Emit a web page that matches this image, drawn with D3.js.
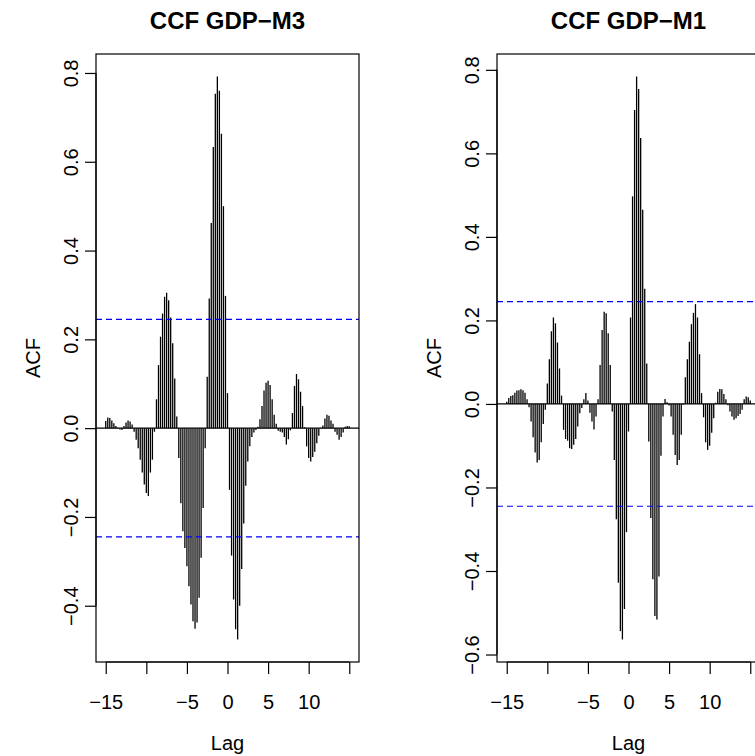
<!DOCTYPE html>
<html>
<head>
<meta charset="utf-8">
<script src="https://cdn.jsdelivr.net/npm/d3@7"></script>
<style>
    body { margin: 0; background: #fff; }
    svg text { font-family: "Liberation Sans", Arial, sans-serif; fill: #000; }
</style>
</head>
<body>
<svg id="chart" width="755" height="756"></svg>
<script>
// lag in years (quarterly data)
const lags = [
    -15, -14.75, -14.5, -14.25, -14, -13.75, -13.5, -13.25, -13, -12.75, -12.5, -12.25, -12, -11.75, -11.5, -11.25, -11, -10.75, -10.5, -10.25,
    -10, -9.75, -9.5, -9.25, -9, -8.75, -8.5, -8.25, -8, -7.75, -7.5, -7.25, -7, -6.75, -6.5, -6.25, -6, -5.75, -5.5, -5.25,
    -5, -4.75, -4.5, -4.25, -4, -3.75, -3.5, -3.25, -3, -2.75, -2.5, -2.25, -2, -1.75, -1.5, -1.25, -1, -0.75, -0.5, -0.25,
    0, 0.25, 0.5, 0.75, 1, 1.25, 1.5, 1.75, 2, 2.25, 2.5, 2.75, 3, 3.25, 3.5, 3.75, 4, 4.25, 4.5, 4.75,
    5, 5.25, 5.5, 5.75, 6, 6.25, 6.5, 6.75, 7, 7.25, 7.5, 7.75, 8, 8.25, 8.5, 8.75, 9, 9.25, 9.5, 9.75,
    10, 10.25, 10.5, 10.75, 11, 11.25, 11.5, 11.75, 12, 12.25, 12.5, 12.75, 13, 13.25, 13.5, 13.75, 14, 14.25, 14.5, 14.75,
    15
];

const ccfM3 = [
    0.016, 0.024, 0.023, 0.017, 0.011, 0.005, 0.001, -0.003, -0.004, 0.005, 0.013, 0.017, 0.015, 0.008, -0.008, -0.026, -0.045, -0.071, -0.100, -0.127,
    -0.146, -0.153, -0.100, -0.071, -0.008, 0.065, 0.142, 0.206, 0.258, 0.296, 0.305, 0.288, 0.249, 0.191, 0.112, 0.026, -0.067, -0.169, -0.232, -0.270,
    -0.311, -0.356, -0.397, -0.435, -0.452, -0.438, -0.382, -0.292, -0.180, -0.045, 0.116, 0.292, 0.462, 0.633, 0.753, 0.792, 0.760, 0.663, 0.500, 0.298,
    0.079, -0.139, -0.287, -0.386, -0.453, -0.476, -0.400, -0.317, -0.215, -0.130, -0.075, -0.041, -0.020, -0.010, -0.004, 0.003, 0.020, 0.050, 0.085, 0.102,
    0.107, 0.097, 0.065, 0.030, 0.010, -0.006, -0.008, -0.010, -0.020, -0.037, -0.025, -0.005, 0.034, 0.095, 0.122, 0.110, 0.082, 0.050, 0.002, -0.041,
    -0.067, -0.075, -0.065, -0.053, -0.034, -0.017, 0.001, 0.006, 0.022, 0.030, 0.028, 0.017, 0.010, -0.008, -0.015, -0.026, -0.020, -0.010, 0.003, 0.005,
    0.004
];

const ccfM1 = [
    0.005, 0.014, 0.019, 0.021, 0.027, 0.032, 0.033, 0.035, 0.033, 0.027, 0.011, -0.008, -0.042, -0.080, -0.116, -0.140, -0.134, -0.092, -0.048, -0.014,
    0.049, 0.107, 0.174, 0.207, 0.193, 0.147, 0.085, 0.020, -0.062, -0.084, -0.088, -0.106, -0.108, -0.098, -0.084, -0.054, -0.022, -0.010, 0.011, 0.026,
    0.008, -0.021, -0.042, -0.061, -0.030, 0.011, 0.093, 0.177, 0.221, 0.217, 0.169, 0.093, -0.018, -0.134, -0.276, -0.428, -0.544, -0.564, -0.491, -0.307,
    -0.066, 0.207, 0.497, 0.704, 0.784, 0.754, 0.637, 0.465, 0.276, 0.097, -0.090, -0.273, -0.420, -0.508, -0.516, -0.413, -0.124, -0.030, 0.012, 0.004,
    -0.004, -0.030, -0.074, -0.122, -0.146, -0.134, -0.074, -0.002, 0.064, 0.107, 0.149, 0.191, 0.218, 0.239, 0.207, 0.119, 0.026, -0.032, -0.092, -0.110,
    -0.100, -0.069, -0.034, 0.003, 0.029, 0.036, 0.035, 0.024, 0.011, -0.003, -0.018, -0.030, -0.038, -0.034, -0.029, -0.024, -0.014, 0.011, 0.018, 0.016,
    0.008
];

const confLimit = 0.245;
const xTicks = [-15, -10, -5, 0, 5, 10, 15];
const xTickLabels = ['\u221215', '', '\u22125', '0', '5', '10', ''];

const svg = d3.select('#chart');

// R style range with 4% padding
function padded(ext) {
    let d = (ext[1] - ext[0]) * 0.04;
    return [ext[0] - d, ext[1] + d];
}

class ccfPanel {
    constructor(left, right, top, bottom, title, values) {
        this._left = left;
        this._right = right;
        this._top = top;
        this._bottom = bottom;
        this._values = values;
        this._g = svg.append('g');
        this._x = d3.scaleLinear().domain(padded(d3.extent(lags))).range([left, right]);
        this._y = d3.scaleLinear()
            .domain(padded(d3.extent(values.concat([confLimit, -confLimit]))))
            .range([bottom, top]);
        this._g.append('text')
            .attr('x', (left + right) / 2)
            .attr('y', 29)
            .attr('text-anchor', 'middle')
            .attr('font-size', '24px')
            .attr('font-weight', 'bold')
            .text(title);
    }
    draw() {
        let x = this._x, y = this._y;
        this._g.append('g')
            .selectAll('line')
            .data(this._values)
            .enter()
            .append('line')
            .attr('x1', (d, i) => x(lags[i]))
            .attr('x2', (d, i) => x(lags[i]))
            .attr('y1', y(0))
            .attr('y2', d => y(d))
            .attr('stroke', '#000')
            .attr('stroke-width', 1.3);
        this._g.append('line')
            .attr('x1', this._left).attr('x2', this._right)
            .attr('y1', y(0)).attr('y2', y(0))
            .attr('stroke', '#000').attr('stroke-width', 1.2);
        this._g.selectAll('.conf')
            .data([confLimit, -confLimit])
            .enter()
            .append('line')
            .attr('class', 'conf')
            .attr('x1', this._left).attr('x2', this._right)
            .attr('y1', d => y(d)).attr('y2', d => y(d))
            .attr('stroke', '#0000ff')
            .attr('stroke-width', 1.2)
            .attr('stroke-dasharray', '6,4');
        this._g.append('rect')
            .attr('x', this._left).attr('y', this._top)
            .attr('width', this._right - this._left)
            .attr('height', this._bottom - this._top)
            .attr('fill', 'none')
            .attr('stroke', '#000')
            .attr('stroke-width', 1.2);
    }
    axes() {
        let x = this._x, y = this._y;
        let xAxis = d3.axisBottom(x)
            .tickValues(xTicks)
            .tickSize(12)
            .tickPadding(0)
            .tickFormat((d, i) => xTickLabels[i]);
        let gx = this._g.append('g')
            .attr('transform', 'translate(0,' + this._bottom + ')')
            .call(xAxis);
        gx.select('.domain')
            .attr('d', 'M' + x(xTicks[0]) + ',0H' + x(xTicks[xTicks.length - 1]))
            .attr('stroke-width', 1.2);
        gx.selectAll('.tick line').attr('stroke-width', 1.2);
        gx.selectAll('.tick text')
            .attr('y', 47)
            .attr('dy', null)
            .attr('font-size', '20px')
            .attr('font-family', '"Liberation Sans", Arial, sans-serif');

        let yt = y.ticks(7);
        let yAxis = d3.axisLeft(y)
            .tickValues(yt)
            .tickSize(11)
            .tickFormat(d3.format('.1f'));
        let gy = this._g.append('g')
            .attr('transform', 'translate(' + this._left + ',0)')
            .call(yAxis);
        gy.select('.domain')
            .attr('d', 'M0,' + y(yt[0]) + 'V' + y(yt[yt.length - 1]))
            .attr('stroke-width', 1.2);
        gy.selectAll('.tick line').attr('stroke-width', 1.2);
        gy.selectAll('.tick text')
            .attr('x', null).attr('dy', null)
            .attr('transform', 'translate(-18,0) rotate(-90)')
            .attr('text-anchor', 'middle')
            .attr('font-size', '20px')
            .attr('font-family', '"Liberation Sans", Arial, sans-serif');

        this._g.append('text')
            .attr('x', (this._left + this._right) / 2)
            .attr('y', 750)
            .attr('text-anchor', 'middle')
            .attr('font-size', '20px')
            .text('Lag');
        this._g.append('text')
            .attr('transform', 'translate(' + (this._left - 56) + ',' + ((this._top + this._bottom) / 2) + ') rotate(-90)')
            .attr('text-anchor', 'middle')
            .attr('font-size', '20px')
            .text('ACF');
    }
}

let panelM3 = new ccfPanel(96, 359, 54, 662, 'CCF GDP\u2212M3', ccfM3);
panelM3.draw();
panelM3.axes();

let panelM1 = new ccfPanel(497, 760, 54, 662, 'CCF GDP\u2212M1', ccfM1);
panelM1.draw();
panelM1.axes();
</script>
</body>
</html>
